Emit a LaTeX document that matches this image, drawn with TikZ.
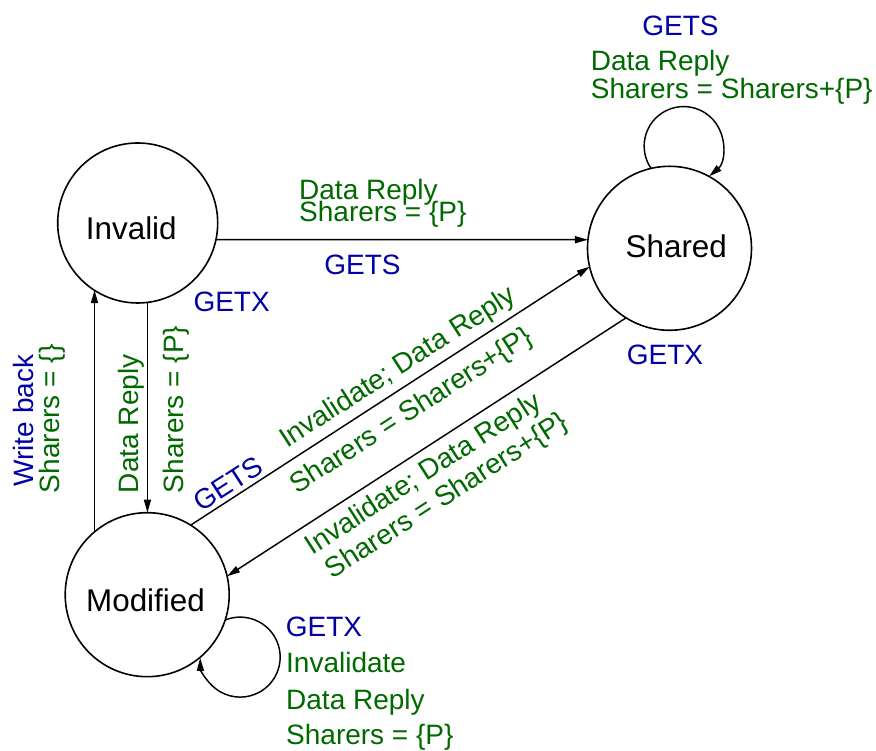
\documentclass[tikz,border=0pt]{standalone}
\usepackage{fontspec}
\setmainfont{Liberation Sans}
\usetikzlibrary{arrows.meta}
\definecolor{lblblue}{RGB}{0,0,165}
\definecolor{lblgreen}{RGB}{0,105,0}
\begin{document}
\begin{tikzpicture}[x=1pt,y=1pt,
  state/.style={circle,draw,line width=1.6pt,inner sep=0pt,outer sep=0pt,minimum size=#1},
  statetext/.style={font=\fontsize{31.4}{36}\selectfont,inner sep=0pt,anchor=base},
  lbl/.style={font=\fontsize{28}{32}\selectfont,inner sep=0pt},
  getc/.style={text=lblblue},
  actc/.style={text=lblgreen},
  arr/.style={-{Triangle[length=13pt,width=7pt]},line width=1.45pt}]
\useasboundingbox (0,0) rectangle (876,751);
% states
\node[state=160] (invalid) at (137.7,528) {};
\node[state=164] (shared) at (669.5,502.7) {};
\node[state=164] (modified) at (147.2,156.3) {};
\node[statetext] (invalidname) at (131.3,511) {Invalid};
\node[statetext] (sharedname) at (676.3,493.7) {Shared};
\node[statetext] (modifiedname) at (145.5,139.3) {Modified};
% transitions
\draw[arr] (invalid.-12.3) -- (shared.174.2);
\draw[arr] (modified.58.3) -- (shared.193.2);
\draw[arr] (shared.238.2) -- (modified.13);
\draw[arr] (invalid.-83.5) -- (invalid.-83.5 |- modified.north);
\draw[arr] (modified.130.9) -- (modified.130.9 |- invalid.-123.5);
\draw[arr] (shared.103) arc[start angle=214.4,end angle=-50,radius=39.5];
\draw[arr] (modified.-18.1) arc[start angle=112,end angle=-179,radius=40];
% shared loop labels
\node[lbl,getc,anchor=base] (getsloop) at (680.5,715) {GETS};
\node[lbl,actc,anchor=base west] (loopreply) at (590.7,680) {Data Reply};
\node[lbl,actc,anchor=base west] (loopsharers) at (590.7,652) {Sharers = Sharers+\{P\}};
% invalid -> shared labels
\node[lbl,actc,anchor=base west] (isreply) at (299,551) {Data Reply};
\node[lbl,actc,anchor=base west] (issharers) at (299,529.3) {Sharers = \{P\}};
\node[lbl,getc,anchor=base] (isgets) at (362.5,476) {GETS};
% GETX labels
\node[lbl,getc,anchor=base west] (imgetx) at (193.3,439.3) {GETX};
\node[lbl,getc,anchor=base west] (smgetx) at (626.7,386.7) {GETX};
% vertical labels
\node[lbl,getc,rotate=90,anchor=base west] (wb) at (33.3,264.3) {Write back};
\node[lbl,actc,rotate=90,anchor=base west] (wbsharers) at (59.3,257.7) {Sharers = \{\}};
\node[lbl,actc,rotate=90,anchor=base west] (imreply) at (138.3,257.7) {Data Reply};
\node[lbl,actc,rotate=90,anchor=base west] (imsharers) at (183.3,257.7) {Sharers = \{P\}};
% diagonal labels
\node[lbl,getc,rotate=32.8] (msgets) at (228.3,267) {GETS};
\node[lbl,actc,rotate=32.8] (msinv) at (398.3,382.7) {Invalidate; Data Reply};
\node[lbl,actc,rotate=32.8] (mssharers) at (411.7,339.3) {Sharers = Sharers+\{P\}};
\node[lbl,actc,rotate=32.8] (sminv) at (424,276) {Invalidate; Data Reply};
\node[lbl,actc,rotate=32.8] (smsharers) at (447.3,254.3) {Sharers = Sharers+\{P\}};
% modified loop labels
\node[lbl,getc,anchor=base west] (mmgetx) at (285.7,114) {GETX};
\node[lbl,actc,anchor=base west] (mminv) at (286,78) {Invalidate};
\node[lbl,actc,anchor=base west] (mmreply) at (286,41.5) {Data Reply};
\node[lbl,actc,anchor=base west] (mmsharers) at (286,6) {Sharers = \{P\}};
\end{tikzpicture}
\end{document}
